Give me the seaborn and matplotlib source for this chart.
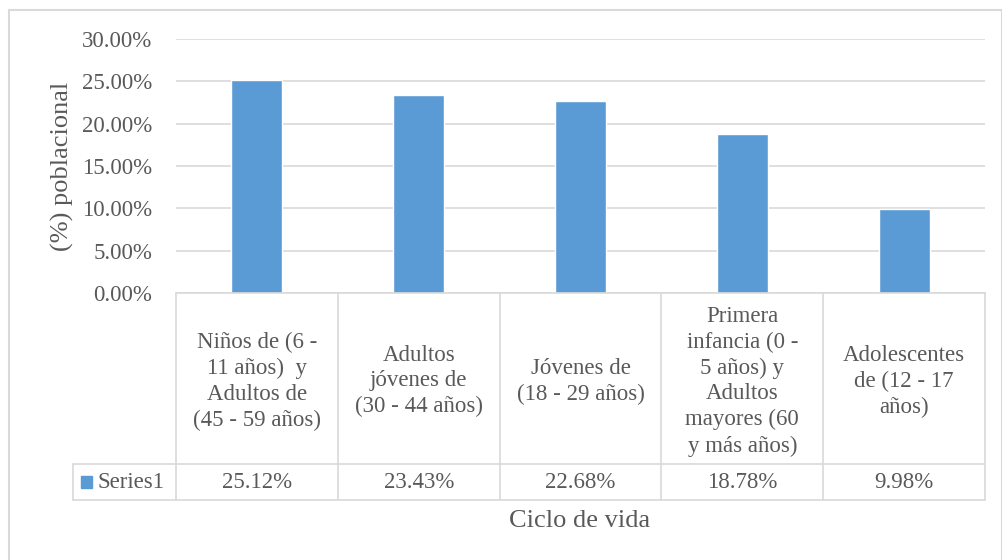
import numpy as np
import pandas as pd
import matplotlib
matplotlib.use("Agg")
import matplotlib.pyplot as plt
import matplotlib.transforms as mtransforms
from matplotlib.patches import Rectangle
import seaborn as sns

# data
categories = [
    "Niños de (6 -\n11 años)  y\nAdultos de\n(45 - 59 años)",
    "Adultos\njóvenes de\n(30 - 44 años)",
    "Jóvenes de\n(18 - 29 años)",
    "Primera\ninfancia (0 -\n5 años) y\nAdultos\nmayores (60\ny más años)",
    "Adolescentes\nde (12 - 17\naños)",
]
values = [25.12, 23.43, 22.68, 18.78, 9.98]
series_name = "Series1"
y_ticks = [0, 5, 10, 15, 20, 25, 30]

sns.set_style("white")
plt.rcParams['font.family'] = ['Liberation Serif', 'DejaVu Serif']

text_col = "#595959"
grid_col = "#D9D9D9"
bar_col = "#5B9BD5"

df = pd.DataFrame({"cat": categories, "val": np.array(values) / 100})

fig = plt.figure(figsize=(10.03, 5.6), dpi=100)
ax = fig.add_axes([176 / 1003, 1 - 293 / 560, 809 / 1003, 254 / 560])

sns.barplot(data=df, x="cat", y="val", color=bar_col, width=0.315,
            saturation=1, ax=ax)

ax.set_xlim(-0.5, len(categories) - 0.5)
ax.set_ylim(0, 0.30)
ax.set_yticks([t / 100 for t in y_ticks])
ax.set_yticklabels(["{:.2f}%".format(t) for t in y_ticks])
ax.tick_params(axis='y', length=0, pad=17, labelsize=16.5, labelcolor=text_col)
ax.set_xticks([])
ax.set_xlabel("")
ax.set_ylabel("")
ax.grid(axis='y', color=grid_col, linewidth=1.2)
ax.set_axisbelow(True)
for s in ["left", "right", "top"]:
    ax.spines[s].set_visible(False)
ax.spines["bottom"].set_color(grid_col)
ax.spines["bottom"].set_linewidth(1.2)

# data table below the axis
y_mid = (293 - 464) / 254
y_bot = (293 - 500) / 254
x_leg = (73 - 176) / 809
n = len(categories)
line_kw = dict(color=grid_col, linewidth=1.2, clip_on=False, transform=ax.transAxes)
for i in range(n + 1):
    ax.plot([i / n, i / n], [0, y_bot], **line_kw)
ax.plot([x_leg, 1], [y_mid, y_mid], **line_kw)
ax.plot([x_leg, 1], [y_bot, y_bot], **line_kw)
ax.plot([x_leg, x_leg], [y_mid, y_bot], **line_kw)

blend = mtransforms.blended_transform_factory(ax.transData, ax.transAxes)
for i, (c, v) in enumerate(zip(categories, values)):
    ax.text(i, y_mid / 2 - 0.01, c, transform=blend, ha='center', va='center',
            fontsize=16.5, color=text_col, linespacing=1.3)
    ax.text(i, (y_mid + y_bot) / 2, "{:.2f}%".format(v), transform=blend,
            ha='center', va='center', fontsize=16.5, color=text_col)

# legend key in the table
sq = (92 - 81) / 809
ax.add_patch(Rectangle(((81 - 176) / 809, (y_mid + y_bot) / 2 - 0.022), sq, 0.044,
                       transform=ax.transAxes, color=bar_col, clip_on=False))
ax.text((98 - 176) / 809, (y_mid + y_bot) / 2, series_name, transform=ax.transAxes,
        ha='left', va='center', fontsize=16.5, color=text_col)

fig.text(62 / 1003, 1 - 166 / 560, "(%) poblacional", rotation=90,
         ha='center', va='center', fontsize=19, color=text_col)
fig.text(580 / 1003, 1 - 521 / 560, "Ciclo de vida",
         ha='center', va='center', fontsize=19, color=text_col)

# chart border
fig.add_artist(Rectangle((9.5 / 1003, -0.05), (1002 - 9.5) / 1003, 1 - 9.5 / 560 + 0.05,
                         transform=fig.transFigure, fill=False,
                         edgecolor=grid_col, linewidth=1.5))

fig.savefig("out.png", dpi=100)
